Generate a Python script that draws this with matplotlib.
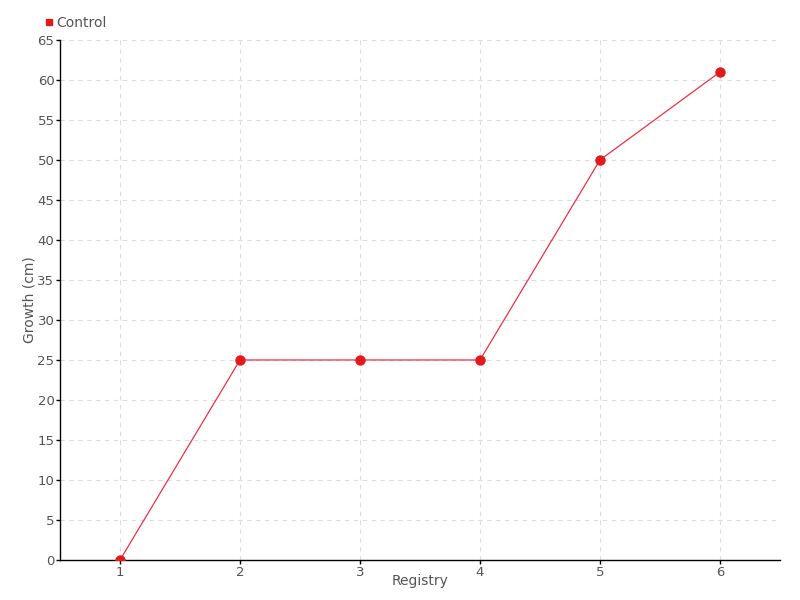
import matplotlib
matplotlib.use("Agg")
import matplotlib.pyplot as plt

plt.rcParams['font.family'] = ['Liberation Sans Narrow', 'DejaVu Sans']

registry = [1, 2, 3, 4, 5, 6]
growth = [0, 25, 25, 25, 50, 61]
series_name = "Control"

txt = '#555555'
red = '#e31a1c'

fig = plt.figure(figsize=(8, 6), dpi=100)
ax = fig.add_axes([0.075, 0.0667, 0.9, 0.8667])

ax.plot(registry, growth, color='#f03040', lw=0.9, zorder=3)
ax.plot(registry, growth, 'o', color=red, ms=6.5, zorder=4, label=series_name)

ax.set_xlim(0.5, 6.5)
ax.set_ylim(0, 65)
ax.set_xticks(registry)
ax.set_yticks(range(0, 66, 5))

ax.grid(True, color='#dddddd', linestyle=(0, (4, 4)), lw=0.8)
ax.set_axisbelow(True)
for s in ['top', 'right']:
    ax.spines[s].set_visible(False)
for s in ['left', 'bottom']:
    ax.spines[s].set_linewidth(1)
    ax.spines[s].set_color('black')

ax.tick_params(axis='both', colors='black', labelcolor=txt, labelsize=9.5, length=3, width=1, pad=1)
ax.set_xlabel("Registry", color=txt, fontsize=10, labelpad=-3)
ax.set_ylabel("Growth (cm)", color=txt, fontsize=10, labelpad=1)

leg = fig.legend(handles=[plt.Line2D([], [], marker='s', color=red, ls='none', ms=5)],
                 labels=[series_name], loc='upper left', bbox_to_anchor=(0.057, 0.973),
                 frameon=False, fontsize=10, handlelength=0.5, handletextpad=0.3,
                 borderaxespad=0, borderpad=0)
for t in leg.get_texts():
    t.set_color(txt)

fig.savefig("out.png", dpi=100)
